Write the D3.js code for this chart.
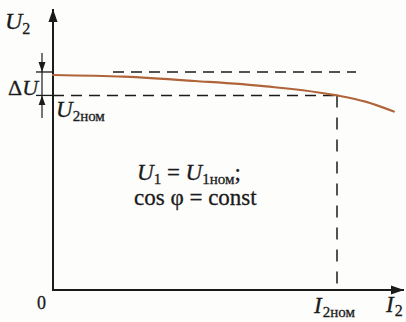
<!DOCTYPE html>
<html>
<head>
<meta charset="utf-8">
<script src="https://cdn.jsdelivr.net/npm/d3@7"></script>
<style>
  html, body { margin: 0; padding: 0; background: #fdfdfc; }
  svg { display: block; }
</style>
</head>
<body>
<svg id="chart" width="406" height="322"></svg>
<script>
// Load characteristic of a transformer: U2 versus I2 (relative units)
const current = [0, 0.25, 0.5, 0.75, 1.0, 1.1, 1.2];
const voltage = [1.0, 0.992, 0.972, 0.947, 0.905, 0.876, 0.83];
const noLoadVoltage = 1.014;   // upper dashed level
const nominalCurrent = 1.0;    // I2ном
const nominalVoltage = 0.905;  // U2ном

const svg = d3.select("#chart");
const ink = "#1b1b1b";
const curveColor = "#b0643a";
const serif = '"Liberation Serif"';

const x = d3.scaleLinear().domain([0, 1]).range([53, 337]);
const y = d3.scaleLinear().domain([0, 1]).range([290, 75]);

// arrow markers
const defs = svg.append("defs");
function marker(id, size) {
  defs.append("marker")
    .attr("id", id).attr("viewBox", "0 0 10 10")
    .attr("refX", 10).attr("refY", 5)
    .attr("markerWidth", size).attr("markerHeight", size)
    .attr("markerUnits", "userSpaceOnUse")
    .attr("orient", "auto")
    .append("path").attr("d", "M0,1.5 L10,5 L0,8.5 Z").attr("fill", ink);
}
marker("axisArrow", 13);
marker("smallArrow", 10);

// axes
svg.append("line")
  .attr("x1", x(0)).attr("y1", y(0) + 1)
  .attr("x2", x(0)).attr("y2", 9)
  .attr("stroke", ink).attr("stroke-width", 2)
  .attr("marker-end", "url(#axisArrow)");
svg.append("line")
  .attr("x1", x(0) - 1).attr("y1", y(0))
  .attr("x2", 404).attr("y2", y(0))
  .attr("stroke", ink).attr("stroke-width", 2)
  .attr("marker-end", "url(#axisArrow)");

// dashed guides
const dash = "11,7";
svg.append("line")
  .attr("x1", 113).attr("x2", 356)
  .attr("y1", y(noLoadVoltage)).attr("y2", y(noLoadVoltage))
  .attr("stroke", ink).attr("stroke-width", 1.5).attr("stroke-dasharray", dash);
svg.append("line")
  .attr("x1", x(0)).attr("x2", x(nominalCurrent))
  .attr("y1", y(nominalVoltage)).attr("y2", y(nominalVoltage))
  .attr("stroke", ink).attr("stroke-width", 1.5).attr("stroke-dasharray", dash);
svg.append("line")
  .attr("x1", x(nominalCurrent)).attr("x2", x(nominalCurrent))
  .attr("y1", y(nominalVoltage)).attr("y2", y(0))
  .attr("stroke", ink).attr("stroke-width", 1.5).attr("stroke-dasharray", "12,10");

// ΔU dimension: ticks and arrows
[noLoadVoltage, nominalVoltage].forEach(v => {
  svg.append("line")
    .attr("x1", 36).attr("x2", x(0))
    .attr("y1", y(v)).attr("y2", y(v))
    .attr("stroke", ink).attr("stroke-width", 1.3);
});
svg.append("line")
  .attr("x1", 42).attr("x2", 42)
  .attr("y1", y(noLoadVoltage)).attr("y2", y(nominalVoltage))
  .attr("stroke", ink).attr("stroke-width", 1.2);
svg.append("line")
  .attr("x1", 42).attr("x2", 42)
  .attr("y1", 53).attr("y2", y(noLoadVoltage))
  .attr("stroke", ink).attr("stroke-width", 1.2)
  .attr("marker-end", "url(#smallArrow)");
svg.append("line")
  .attr("x1", 42).attr("x2", 42)
  .attr("y1", 118).attr("y2", y(nominalVoltage))
  .attr("stroke", ink).attr("stroke-width", 1.2)
  .attr("marker-end", "url(#smallArrow)");

// characteristic curve
const pts = current.map((c, i) => [c, voltage[i]]);
svg.append("path")
  .datum(pts)
  .attr("d", d3.line().x(d => x(d[0])).y(d => y(d[1])).curve(d3.curveMonotoneX))
  .attr("fill", "none").attr("stroke", curveColor).attr("stroke-width", 2.2)
  .attr("stroke-linecap", "round");

// labels
function label(px, py, parts) {
  const t = svg.append("text").attr("x", px).attr("y", py)
    .style("font-family", serif).attr("fill", ink)
    .attr("stroke", ink).attr("stroke-width", 0.3);
  parts.forEach(p => {
    const s = t.append("tspan").text(p.t)
      .style("font-family", serif)
      .attr("font-size", p.size)
      .attr("font-style", p.italic ? "italic" : "normal");
    if (p.dy) s.attr("dy", p.dy);
    if (p.dx) s.attr("dx", p.dx);
  });
  return t;
}

label(5, 29, [{t: "U", size: 24, italic: true}, {t: "2", size: 16, dy: 5}]);
label(8, 95, [{t: "Δ", size: 22}, {t: "U", size: 22, italic: true}]);
label(56, 117, [{t: "U", size: 23, italic: true}, {t: "2ном", size: 15, dy: 4}]);
label(37, 309, [{t: "0", size: 18}]);
label(314, 313, [{t: "I", size: 23, italic: true}, {t: "2ном", size: 15, dy: 4, dx: 1}]);
label(386, 312, [{t: "I", size: 23, italic: true}, {t: "2", size: 16, dy: 4, dx: 1}]);

label(137, 180, [
  {t: "U", size: 23, italic: true}, {t: "1", size: 15, dy: 4},
  {t: " = ", size: 23, dy: -4},
  {t: "U", size: 23, italic: true}, {t: "1ном", size: 15, dy: 4},
  {t: ";", size: 23, dy: -4}
]);
label(134, 205, [{t: "cos φ = const", size: 23}]);
</script>
</body>
</html>
